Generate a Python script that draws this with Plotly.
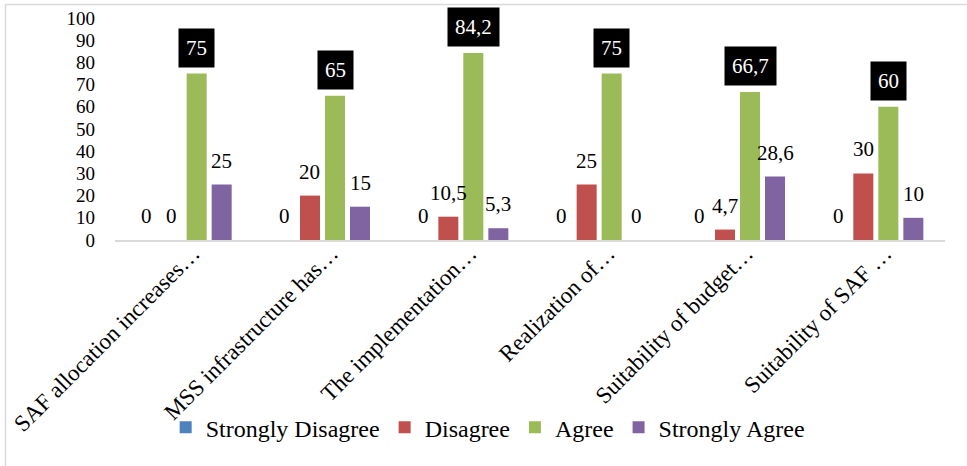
import plotly.graph_objects as go

categories = [
    "SAF allocation increases…",
    "MSS infrastructure has…",
    "The implementation…",
    "Realization of…",
    "Suitability of budget…",
    "Suitability of SAF …",
]
series_names = ["Strongly Disagree", "Disagree", "Agree", "Strongly Agree"]
strongly_disagree = [0, 0, 0, 0, 0, 0]
disagree = [0, 20, 10.5, 25, 4.7, 30]
agree = [75, 65, 84.2, 75, 66.7, 60]
strongly_agree = [25, 15, 5.3, 0, 28.6, 10]
y_ticks = [0, 10, 20, 30, 40, 50, 60, 70, 80, 90, 100]

colors = ["#4F81BD", "#C0504D", "#9BBB59", "#8064A2"]
all_series = [strongly_disagree, disagree, agree, strongly_agree]

W, H = 967, 466
L, R, T, B = 115, 22, 18, 226
FONT = "Liberation Serif, Times New Roman, serif"
bargap = 0.277
bargroupgap = 0.2

fig = go.Figure()
for name, vals, col in zip(series_names, all_series, colors):
    fig.add_trace(go.Bar(x=categories, y=vals, name=name, marker_color=col,
                         marker_line_width=0))

def fmt(v):
    s = ("%g" % v)
    return s.replace(".", ",")

plot_w = W - L - R
plot_h = H - T - B
cat_px = plot_w / len(categories)
slot = cat_px * (1 - bargap) / len(series_names)
annotations = []
for si, vals in enumerate(all_series):
    off = (si - (len(series_names) - 1) / 2) * slot
    for c, v in zip(categories, vals):
        boxed = series_names[si] == "Agree"
        annotations.append(dict(
            x=c, y=v, xref="x", yref="y", text=fmt(v), showarrow=False,
            xshift=off, yshift=24 if not boxed else 26, yanchor="middle",
            font=dict(family=FONT, size=21, color="white" if boxed else "black"),
            bgcolor="black" if boxed else None, borderpad=7 if boxed else 0,
        ))

fig.update_layout(
    width=W, height=H,
    margin=dict(l=L, r=R, t=T, b=B, autoexpand=False),
    paper_bgcolor="white", plot_bgcolor="white",
    barmode="group", bargap=bargap, bargroupgap=bargroupgap,
    font=dict(family=FONT, size=21, color="black"),
    annotations=annotations,
    legend=dict(orientation="h", x=0.449, xanchor="center", y=-0.845, yanchor="middle",
                font=dict(family=FONT, size=24, color="black"), itemwidth=30,
                bgcolor="rgba(0,0,0,0)", traceorder="normal"),
    showlegend=True,
    shapes=[dict(type="rect", xref="paper", yref="paper",
                 x0=(5.5 - L) / plot_w, x1=(W + 10 - L) / plot_w,
                 y0=(H - B - (H + 10)) / plot_h, y1=(H - B - 4.5) / plot_h,
                 line=dict(color="#d9d9d9", width=1.5), fillcolor="rgba(0,0,0,0)",
                 layer="below")],
)
fig.update_xaxes(showline=True, linecolor="#d9d9d9", linewidth=1.5, tickangle=-45,
                 showgrid=False, ticks="", ticklabelshift=9, ticklabelstandoff=-11,
                 automargin=False,
                 tickfont=dict(family=FONT, size=23, color="black"))
fig.update_yaxes(range=[0, 100], tickvals=y_ticks, showgrid=False, zeroline=False,
                 showline=False, ticks="", ticklabelstandoff=19, automargin=False,
                 tickfont=dict(family=FONT, size=19, color="black"))

fig.write_html("out.html")
